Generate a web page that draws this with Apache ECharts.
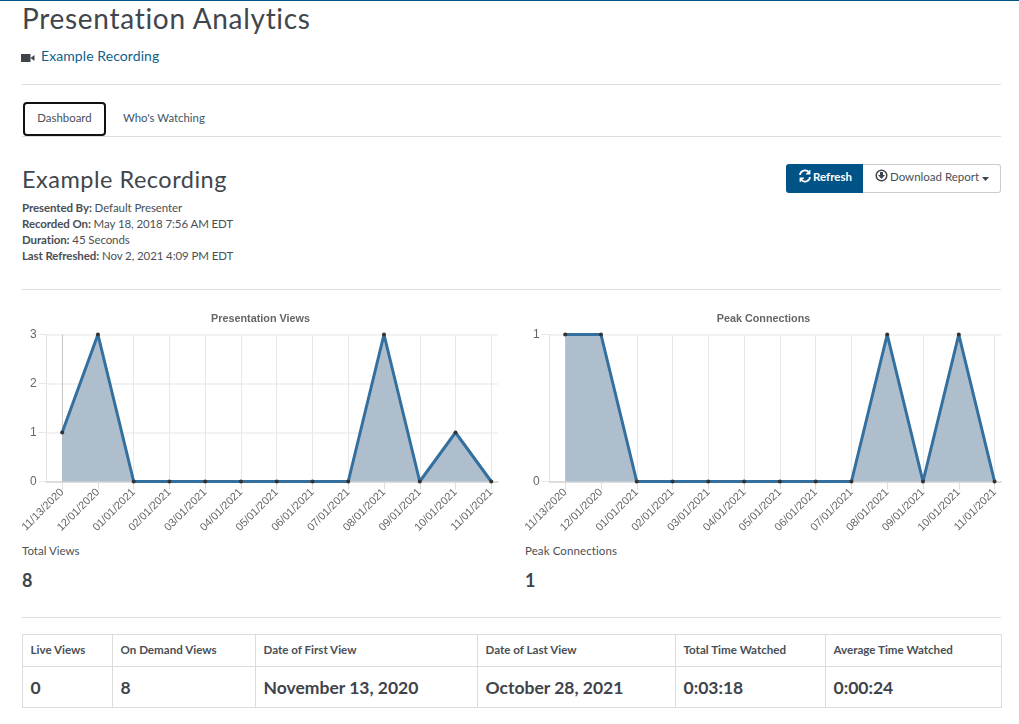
<!DOCTYPE html>
<html>
<head>
<meta charset="utf-8">
<title>Presentation Analytics</title>
<script src="https://cdn.jsdelivr.net/npm/echarts@6/dist/echarts.min.js"></script>
<style>
html,body{margin:0;padding:0;background:#fff;}
body{width:1019px;height:724px;position:relative;overflow:hidden;font-family:Lato,"Open Sans",sans-serif;color:#3f444a;}
.abs{position:absolute;white-space:nowrap;}
.hr{position:absolute;left:22px;width:979px;height:1px;background:#dcdfe2;}
.chart{position:absolute;top:300px;height:240px;}
.detail{font-size:11.5px;line-height:16px;letter-spacing:-.1px;color:#4a4f55;}
.detail b{font-weight:700;}
.cell{position:absolute;box-sizing:border-box;border:1px solid #dcdcdc;padding-left:7.5px;white-space:nowrap;}
.cell.head{top:634px;height:33px;line-height:29px;font-size:11.6px;font-weight:700;color:#4a4f55;}
.cell.val{top:666px;height:42px;line-height:41px;font-size:17.5px;font-weight:700;color:#3f444a;}
</style>
</head>
<body>
<div class="abs" style="left:0;top:0;width:1019px;height:1px;background:#005387"></div>
<div class="abs" id="pageTitle" style="left:22px;top:-1px;font-size:28px;line-height:38px;letter-spacing:.7px;color:#41464d">Presentation Analytics</div>
<svg class="abs" style="left:21px;top:54px" width="14" height="8"><rect width="9.5" height="8" fill="#3f444a"/><path d="M9.5 4 L13.5 1 V7 Z" fill="#3f444a"/></svg>
<div class="abs" style="left:41px;top:46px;font-size:14px;line-height:20px;letter-spacing:.08px;color:#0f5f8a">Example Recording</div>
<div class="hr" style="top:84px"></div>

<div class="abs" style="left:23px;top:102px;width:83px;height:34px;box-sizing:border-box;border:2px solid #111;border-radius:4px;background:#fff;text-align:center;font-size:11.4px;line-height:28px;color:#4a4f55;z-index:2">Dashboard</div>
<div class="abs" style="left:123px;top:110px;font-size:11.4px;line-height:16px;color:#3d5566">Who's Watching</div>
<div class="hr" style="top:136px"></div>

<div class="abs" style="left:22px;top:163px;font-size:23.5px;line-height:32px;letter-spacing:.5px;color:#41464d">Example Recording</div>
<div class="abs detail" style="left:22px;top:200px"><b>Presented By:</b> Default Presenter<br><b>Recorded On:</b> May 18, 2018 7:56 AM EDT<br><b>Duration:</b> 45 Seconds<br><b>Last Refreshed:</b> Nov 2, 2021 4:09 PM EDT</div>

<div class="abs" style="left:786px;top:164px;width:77px;height:29px;background:#005387;border-radius:3px 0 0 3px;color:#fff;font-size:11.5px;font-weight:700;line-height:26px;box-sizing:border-box;padding-left:27px">Refresh</div>
<svg class="abs" style="left:798px;top:169px" width="14" height="14" viewBox="0 0 14 14" fill="none" stroke="#fff" stroke-width="1.8"><path d="M2 6 A5 5 0 0 1 11 3.5"/><path d="M12 8 A5 5 0 0 1 3 10.5"/><path d="M11.8 1 V5 H8" stroke-width="1.2" fill="#fff"/><path d="M2.2 13 V9 H6" stroke-width="1.2" fill="#fff"/></svg>
<div class="abs" style="left:863px;top:164px;width:138px;height:29px;box-sizing:border-box;border:1px solid #ccc;border-left:none;border-radius:0 3px 3px 0;font-size:11.5px;line-height:24px;color:#4a4f55;padding-left:27px">Download Report</div>
<svg class="abs" style="left:875px;top:169px" width="13" height="13" viewBox="0 0 13 13"><circle cx="6.5" cy="6.5" r="5.3" fill="none" stroke="#3f444a" stroke-width="1.5"/><path d="M5 3 H8 V6 H10 L6.5 10 L3 6 H5 Z" fill="#3f444a"/></svg>
<svg class="abs" style="left:982px;top:177px" width="7" height="4"><path d="M0 0 H7 L3.5 4 Z" fill="#3f444a"/></svg>

<div class="hr" style="top:289px"></div>

<div class="chart" id="viewsChart" style="left:0;width:510px"></div>
<div class="chart" id="peakChart" style="left:510px;width:509px"></div>

<div class="abs" style="left:22px;top:543px;font-size:11.5px;line-height:16px;color:#4a4f55">Total Views</div>
<div class="abs" style="left:22px;top:568px;font-size:18px;line-height:24px;font-weight:700">8</div>
<div class="abs" style="left:525px;top:543px;font-size:11.5px;letter-spacing:.1px;line-height:16px;color:#4a4f55">Peak Connections</div>
<div class="abs" style="left:525px;top:568px;font-size:18px;line-height:24px;font-weight:700">1</div>

<div class="hr" style="top:617px"></div>
<div id="statsTable"></div>

<script>
var categories = ['11/13/2020','12/01/2020','01/01/2021','02/01/2021','03/01/2021','04/01/2021','05/01/2021','06/01/2021','07/01/2021','08/01/2021','09/01/2021','10/01/2021','11/01/2021'];
var views_values = [1,3,0,0,0,0,0,0,0,3,0,1,0];
var peak_values = [1,1,0,0,0,0,0,0,0,1,0,1,0];
var table_heads = ['Live Views','On Demand Views','Date of First View','Date of Last View','Total Time Watched','Average Time Watched'];
var table_values = ['0','8','November 13, 2020','October 28, 2021','0:03:18','0:00:24'];
var table_edges = [22,112,255,477,675,825,1001];

var html = '';
for(var i = 0; i < table_heads.length; i++){
    var pos = 'left:' + table_edges[i] + 'px;width:' + (table_edges[i+1] - table_edges[i] + 1) + 'px';
    html += '<div class="cell head" style="' + pos + '">' + table_heads[i] + '</div>';
    html += '<div class="cell val" style="' + pos + '">' + table_values[i] + '</div>';
}
document.getElementById('statsTable').innerHTML = html;

function draw_area(dom_id, title_text, values, y_max, grid_left, grid_right, title_center, hover_line){
    var chart = echarts.init(document.getElementById(dom_id));
    var points = [], tick_values = [];
    for(var i = 0; i < values.length; i++){
        points.push([i, values[i]]);
        tick_values.push(i);
    }
    var option = {
        animation: false,
        textStyle: {fontFamily: '"Liberation Sans", Arial, sans-serif'},
        title: {
            text: title_text,
            left: title_center,
            top: 9,
            textAlign: 'center',
            textStyle: {fontSize: 10.8, fontWeight: 'bold', color: '#666'}
        },
        grid: {left: grid_left, right: grid_right, top: 34.5, height: 147},
        xAxis: {
            type: 'value',
            min: -0.433,
            max: 12.18,
            axisLine: {onZero: false, lineStyle: {color: '#dcdcdc', width: 2}},
            axisTick: {customValues: tick_values, length: 8, lineStyle: {color: '#ddd'}},
            axisLabel: {
                customValues: tick_values,
                rotate: 45,
                margin: 9,
                fontSize: 11,
                color: '#666',
                formatter: function(v){ return categories[v]; }
            },
            splitLine: {show: true, lineStyle: {color: '#e8e8e8'}}
        },
        yAxis: {
            type: 'value',
            min: 0,
            max: y_max,
            interval: 1,
            axisLine: {show: true, onZero: false, lineStyle: {color: '#e4e4e4'}},
            axisTick: {show: true, length: 8, lineStyle: {color: '#e8e8e8'}},
            axisLabel: {fontSize: 12, color: '#666', margin: 10},
            splitLine: {show: true, lineStyle: {color: '#eee', width: 1.5}}
        },
        series: [{
            type: 'line',
            data: points,
            symbol: 'circle',
            symbolSize: 4,
            itemStyle: {color: '#333'},
            lineStyle: {color: '#33709f', width: 3},
            areaStyle: {color: '#afbecc', opacity: 1},
            // the left chart shows a darker guide on the first point
            markLine: hover_line ? {
                silent: true,
                z: 1,
                symbol: 'none',
                label: {show: false},
                lineStyle: {color: '#c4c4c4', width: 1, type: 'solid'},
                data: [{xAxis: 0}]
            } : undefined
        }]
    };
    chart.setOption(option);
}

draw_area('viewsChart', 'Presentation Views', views_values, 3, 46.7, 12.3, 255.5, true);
draw_area('peakChart', 'Peak Connections', peak_values, 1, 39.7, 18, 248.5, false);
</script>
</body>
</html>
